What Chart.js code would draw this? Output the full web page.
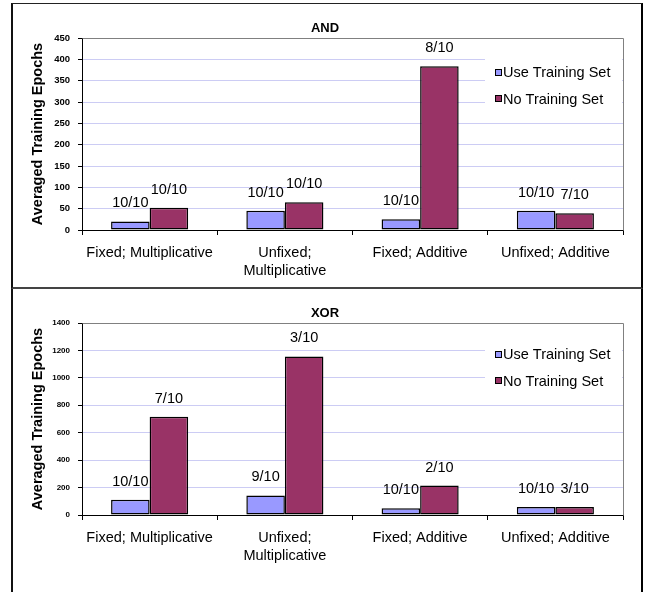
<!DOCTYPE html>
<html>
<head>
<meta charset="utf-8">
<title>AND / XOR training epochs</title>
<script src="https://cdn.jsdelivr.net/npm/chart.js@4/dist/chart.umd.min.js"></script>
<style>
  html, body { margin: 0; padding: 0; background: #fff; width: 650px; height: 592px; overflow: hidden; }
  .box { position: absolute; left: 11px; width: 628px; background: #fff; }
  #boxAnd { top: 3px; height: 283px; border-left: 2px solid #111; border-top: 1px solid #222; border-right: 2px solid #000; border-bottom: 2px solid #444; }
  #boxXor { top: 289px; height: 303px; border-left: 2px solid #111; border-right: 2px solid #000; }
  canvas { display: block; }
</style>
</head>
<body>
<div class="box" id="boxAnd"><canvas id="andChart"></canvas></div>
<div class="box" id="boxXor"><canvas id="xorChart"></canvas></div>
<script>
// Categories and series
const categories = ['Fixed; Multiplicative', ['Unfixed;', 'Multiplicative'], 'Fixed; Additive', 'Unfixed; Additive'];
const seriesNames = ['Use Training Set', 'No Training Set'];

// AND problem: averaged epochs and success counts
const andUseTraining = [20, 45, 25, 45];
const andNoTraining = [52, 65, 384, 39];
const andUseLabels = ['10/10', '10/10', '10/10', '10/10'];
const andNoLabels = ['10/10', '10/10', '8/10', '7/10'];

// XOR problem: averaged epochs and success counts
const xorUseTraining = [111, 143, 49, 59];
const xorNoTraining = [717, 1156, 215, 59];
const xorUseLabels = ['10/10', '9/10', '10/10', '10/10'];
const xorNoLabels = ['7/10', '3/10', '2/10', '3/10'];

// Value axes
const andAxis = { max: 450, step: 50 };
const xorAxis = { max: 1400, step: 200 };

const FONT = "'Liberation Sans', Arial, Helvetica, sans-serif";
const USE_COLOR = '#9999ff';
const NO_COLOR = '#993366';
const GRID_COLOR = '#ccccf4';

Chart.defaults.font.family = FONT;
Chart.defaults.color = '#000';

// Gray frame on the top and right side of the plot area
const plotFrame = {
  id: 'plotFrame',
  beforeDatasetsDraw(chart) {
    const { ctx, chartArea: a } = chart;
    ctx.save();
    ctx.strokeStyle = '#808080';
    ctx.lineWidth = 1;
    ctx.beginPath();
    ctx.moveTo(Math.round(a.left) + 0.5, Math.round(a.top) + 0.5);
    ctx.lineTo(Math.round(a.right) + 0.5, Math.round(a.top) + 0.5);
    ctx.lineTo(Math.round(a.right) + 0.5, Math.round(a.bottom) + 0.5);
    ctx.stroke();
    ctx.restore();
  }
};

// Success-count labels above each bar
const barLabels = {
  id: 'barLabels',
  afterDatasetsDraw(chart, args, opts) {
    const { ctx } = chart;
    ctx.save();
    ctx.font = '14.5px ' + FONT;
    ctx.fillStyle = '#000';
    ctx.textAlign = 'center';
    ctx.textBaseline = 'middle';
    chart.data.datasets.forEach((ds, i) => {
      const meta = chart.getDatasetMeta(i);
      meta.data.forEach((bar, j) => {
        ctx.fillText(ds.counts[j], bar.x, bar.y - opts.gap);
      });
    });
    ctx.restore();
  }
};

// Legend drawn inside the upper right corner of the plot
const insetLegend = {
  id: 'insetLegend',
  afterDatasetsDraw(chart, args, opts) {
    const { ctx, chartArea: a } = chart;
    const left = a.right - 138;
    ctx.save();
    ctx.fillStyle = '#fff';
    ctx.fillRect(left, opts.rowY - 21, 137, 62);
    ctx.font = '14.5px ' + FONT;
    ctx.textAlign = 'left';
    ctx.textBaseline = 'middle';
    chart.data.datasets.forEach((ds, i) => {
      const y = opts.rowY + i * opts.rowGap;
      ctx.fillStyle = ds.backgroundColor;
      ctx.fillRect(left + 10, Math.round(y - 3.5), 7, 7);
      ctx.strokeStyle = '#000';
      ctx.lineWidth = 1;
      ctx.strokeRect(left + 10.5, Math.round(y - 3.5) + 0.5, 6, 6);
      ctx.fillStyle = '#000';
      ctx.fillText(ds.label, left + 18, y + 1);
    });
    ctx.restore();
  }
};

function makeChart(id, title, useVals, noVals, useCounts, noCounts, axis, tickSize, legendRowY, bottomPad) {
  return new Chart(document.getElementById(id), {
    type: 'bar',
    data: {
      labels: categories,
      datasets: [
        { label: seriesNames[0], data: useVals, counts: useCounts, backgroundColor: USE_COLOR, borderColor: '#000', borderWidth: 1.5, borderSkipped: false },
        { label: seriesNames[1], data: noVals, counts: noCounts, backgroundColor: NO_COLOR, borderColor: '#000', borderWidth: 1.5, borderSkipped: false }
      ]
    },
    options: {
      responsive: true,
      maintainAspectRatio: false,
      animation: false,
      devicePixelRatio: 1,
      datasets: { bar: { categoryPercentage: 0.57, barPercentage: 1 } },
      layout: { padding: { left: 14, right: 18, top: 0, bottom: bottomPad } },
      plugins: {
        legend: { display: false },
        tooltip: { enabled: false },
        title: {
          display: true,
          text: title,
          font: { size: 13, weight: 'bold' },
          color: '#000',
          padding: { top: 17, bottom: 1.4 }
        },
        barLabels: { gap: 18 },
        insetLegend: { rowY: legendRowY, rowGap: 26.5 }
      },
      scales: {
        x: {
          afterFit(scale) { scale.height = 50; },
          grid: { drawOnChartArea: false, drawTicks: true, tickLength: 5, tickColor: '#000', offset: true },
          border: { display: true, color: '#000', width: 1 },
          ticks: { font: { size: 14.5, lineHeight: 1.25 }, color: '#000', padding: 9, maxRotation: 0, minRotation: 0, autoSkip: false }
        },
        y: {
          min: 0,
          max: axis.max,
          afterFit(scale) { scale.width = 55; },
          grid: { color: GRID_COLOR, tickColor: '#000', tickLength: 4, lineWidth: 1 },
          border: { display: true, color: '#000', width: 1 },
          ticks: {
            stepSize: axis.step,
            font: { size: tickSize, weight: 'bold' },
            color: '#000',
            padding: 8,
            callback: (v) => String(v)
          },
          title: {
            display: true,
            text: 'Averaged Training Epochs',
            font: { size: 14.5, weight: 'bold', lineHeight: 1.2 },
            color: '#000',
            padding: { top: 2, bottom: 0 }
          }
        }
      }
    },
    plugins: [plotFrame, barLabels, insetLegend]
  });
}

makeChart('andChart', 'AND', andUseTraining, andNoTraining, andUseLabels, andNoLabels, andAxis, 9.5, 68, 7);
makeChart('xorChart', 'XOR', xorUseTraining, xorNoTraining, xorUseLabels, xorNoLabels, xorAxis, 8, 65, 27);
</script>
</body>
</html>
